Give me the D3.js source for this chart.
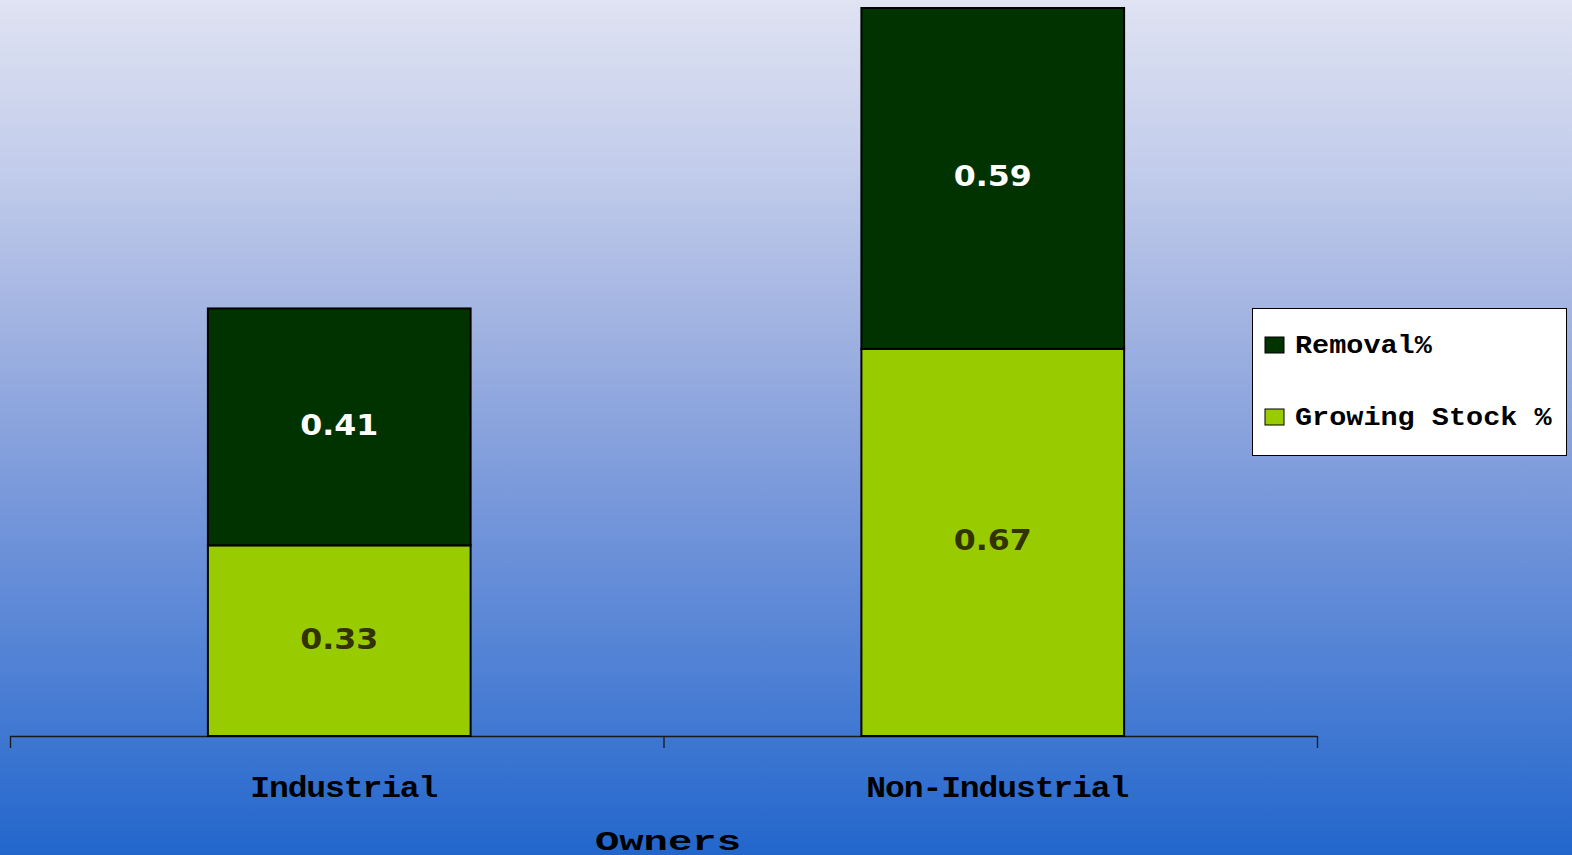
<!DOCTYPE html>
<html>
<head>
<meta charset="utf-8">
<script src="https://cdn.jsdelivr.net/npm/d3@7"></script>
<style>
  html, body { margin: 0; padding: 0; }
  body { width: 1572px; height: 855px; overflow: hidden; }
  text { font-weight: bold; }
  .mono { font-family: "Liberation Mono", "Courier New", monospace; }
  .num { font-family: "DejaVu Sans", Verdana, sans-serif; }
</style>
</head>
<body>
<svg id="chart" width="1572" height="855"></svg>
<script>
// Owner classes and the two stacked shares for each
const categories = ["Industrial", "Non-Industrial"];
const growingStock = [0.33, 0.67];
const removal = [0.41, 0.59];
const seriesNames = ["Removal%", "Growing Stock %"];
const axisTitle = "Owners";

const W = 1572, H = 855;
const svg = d3.select("#chart");

// widen text glyphs horizontally by a factor, keeping the anchor
function stretch(sel, factor) {
  sel.each(function () {
    const len = this.getComputedTextLength();
    d3.select(this).attr("textLength", len * factor).attr("lengthAdjust", "spacingAndGlyphs");
  });
}

// background: pale lavender at the top fading to a saturated blue
const defs = svg.append("defs");
const grad = defs.append("linearGradient").attr("id", "bg").attr("x1", 0).attr("y1", 0).attr("x2", 0).attr("y2", 1);
[[0, "#dfe3f2"], [0.2, "#c2cceb"], [0.4, "#9db0e0"], [0.6, "#7596da"], [0.8, "#4c7fd4"], [1, "#2266cc"]]
  .forEach(([o, c]) => grad.append("stop").attr("offset", o).attr("stop-color", c));
svg.append("rect").attr("width", W).attr("height", H).attr("fill", "url(#bg)");

const rows = categories.map((c, i) => ({ cat: c, gs: growingStock[i], rm: removal[i] }));

const x = d3.scaleBand().domain(categories).range([10, 1317]).padding(0);
const barW = x.bandwidth() * 0.402;
const barShift = 2.5;
const y = d3.scaleLinear()
  .domain([0, d3.max(rows, d => d.gs + d.rm)])
  .range([736, 8]);

const colors = { rm: "#003300", gs: "#99cc00" };

// axis baseline with category-boundary ticks
const axisG = svg.append("g");
axisG.append("line").attr("x1", x.range()[0]).attr("x2", x.range()[1])
  .attr("y1", y(0) + 0.5).attr("y2", y(0) + 0.5).attr("stroke", "#1a1a1a").attr("stroke-width", 1.3);
const tickXs = categories.map(c => x(c)).concat([x.range()[1]]);
axisG.selectAll("line.tick").data(tickXs).enter().append("line")
  .attr("class", "tick")
  .attr("x1", d => d + 0.5).attr("x2", d => d + 0.5)
  .attr("y1", y(0)).attr("y2", y(0) + 12)
  .attr("stroke", "#1a1a1a").attr("stroke-width", 1.3);

const bars = svg.append("g").selectAll("g").data(rows).enter().append("g")
  .attr("transform", d => `translate(${x(d.cat) + x.bandwidth() / 2 - barW / 2 + barShift},0)`);

// lower segment: growing stock
bars.append("rect")
  .attr("x", 0).attr("width", barW)
  .attr("y", d => y(d.gs)).attr("height", d => y(0) - y(d.gs))
  .attr("fill", colors.gs).attr("stroke", "#000").attr("stroke-width", 2);
// upper segment: removal
bars.append("rect")
  .attr("x", 0).attr("width", barW)
  .attr("y", d => y(d.gs + d.rm)).attr("height", d => y(d.gs) - y(d.gs + d.rm))
  .attr("fill", colors.rm).attr("stroke", "#000").attr("stroke-width", 2);

// value labels in the middle of each segment
const gsLabels = bars.append("text").attr("class", "num")
  .attr("x", barW / 2).attr("y", d => (y(0) + y(d.gs)) / 2 + 8)
  .attr("text-anchor", "middle").attr("font-size", 29).attr("fill", "#333300")
  .text(d => d.gs.toFixed(2));
const rmLabels = bars.append("text").attr("class", "num")
  .attr("x", barW / 2).attr("y", d => (y(d.gs) + y(d.gs + d.rm)) / 2 + 8)
  .attr("text-anchor", "middle").attr("font-size", 29).attr("fill", "#ffffff")
  .text(d => d.rm.toFixed(2));
stretch(gsLabels, 1.09);
stretch(rmLabels, 1.09);

// category labels
const catLabels = svg.append("g").selectAll("text").data(categories).enter().append("text")
  .attr("class", "mono")
  .attr("x", d => x(d) + x.bandwidth() / 2 + 7).attr("y", 797)
  .attr("text-anchor", "middle").attr("font-size", 29).attr("fill", "#000")
  .attr("letter-spacing", -1)
  .text(d => d);
stretch(catLabels, 1.14);

// axis title
const title = svg.append("text").attr("class", "mono").attr("x", 668).attr("y", 850)
  .attr("text-anchor", "middle").attr("font-size", 28).attr("fill", "#000")
  .text(axisTitle);
stretch(title, 1.45);

// legend
const lg = svg.append("g").attr("transform", "translate(1252,308)");
lg.append("rect").attr("x", 0.5).attr("y", 0.5).attr("width", 314).attr("height", 147)
  .attr("fill", "#fff").attr("stroke", "#000").attr("stroke-width", 1);
const legendColors = [colors.rm, colors.gs];
const items = lg.selectAll("g.item").data(seriesNames).enter().append("g")
  .attr("class", "item")
  .attr("transform", (d, i) => `translate(13,${29 + i * 72})`);
items.append("rect").attr("width", 19).attr("height", 16)
  .attr("fill", (d, i) => legendColors[i]).attr("stroke", "#000").attr("stroke-width", 1);
const legendText = items.append("text").attr("class", "mono").attr("x", 30).attr("y", 16)
  .attr("font-size", 25).attr("fill", "#000")
  .text(d => d);
stretch(legendText, 1.14);
</script>
</body>
</html>
